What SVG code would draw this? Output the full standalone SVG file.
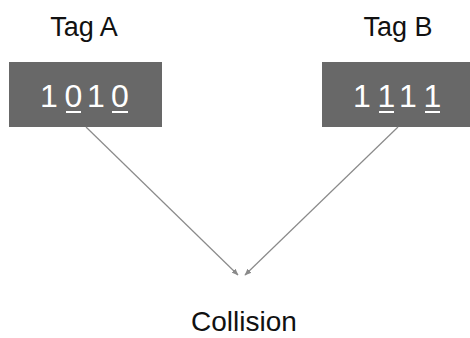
<svg xmlns="http://www.w3.org/2000/svg" width="470" height="338" viewBox="0 0 470 338">
<style>
.lbl{font-family:"Liberation Sans",Arial,sans-serif;fill:#111;text-anchor:middle}
.dig{font-family:"Liberation Sans",Arial,sans-serif;font-size:32px;fill:#fff;text-anchor:middle}
.box{fill:#686868}
.ul{fill:#fff}
.con{stroke:#8a8a8a;stroke-width:1.2;fill:none;marker-end:url(#ah)}
</style>
<defs>
<marker id="ah" viewBox="0 0 10 10" refX="9" refY="5" markerWidth="7" markerHeight="7" markerUnits="userSpaceOnUse" orient="auto">
<path d="M0,1 L10,5 L0,9 z" fill="#8a8a8a"/>
</marker>
</defs>
<rect width="470" height="338" fill="#fff"/>
<g id="tagA">
<text class="lbl" x="84" y="36" font-size="27">Tag A</text>
<rect class="box" x="9" y="62" width="153" height="65"/>
<text class="dig" x="49" y="107">1</text>
<text class="dig" x="73.5" y="107">0</text>
<text class="dig" x="96" y="107">1</text>
<text class="dig" x="120" y="107">0</text>
<rect class="ul" x="66" y="111" width="15" height="2"/>
<rect class="ul" x="112" y="111" width="16" height="2"/>
</g>
<g id="tagB">
<text class="lbl" x="398" y="36" font-size="27">Tag B</text>
<rect class="box" x="322" y="62" width="148" height="65"/>
<text class="dig" x="362" y="107">1</text>
<text class="dig" x="386.5" y="107">1</text>
<text class="dig" x="408" y="107">1</text>
<text class="dig" x="432.5" y="107">1</text>
<rect class="ul" x="379" y="111" width="15" height="2"/>
<rect class="ul" x="425" y="111" width="15" height="2"/>
</g>
<g id="collision">
<text class="lbl" x="244" y="331" font-size="28">Collision</text>
</g>
<g id="connectors">
<line class="con" x1="86" y1="127" x2="238" y2="275"/>
<line class="con" x1="398" y1="127" x2="245" y2="275"/>
</g>
</svg>
